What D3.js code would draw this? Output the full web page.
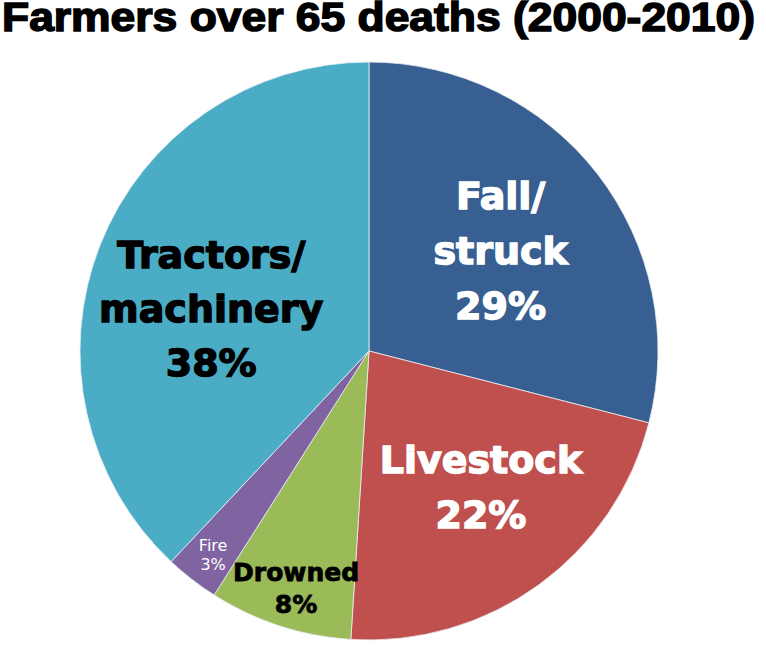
<!DOCTYPE html>
<html>
<head>
<meta charset="utf-8">
<script src="https://cdn.jsdelivr.net/npm/d3@7"></script>
<style>
  html, body { margin: 0; padding: 0; background: #fff; }
  svg { display: block; }
</style>
</head>
<body>
<div id="chart"></div>
<script>
// Causes of death, clockwise from 12 o'clock.
const categories = ["Fall/struck", "Livestock", "Drowned", "Fire", "Tractors/machinery"];
const shares = [29, 22, 8, 3, 38];
const labelLines = [
    ["Fall/", "struck", "29%"],
    ["Livestock", "22%"],
    ["Drowned", "8%"],
    ["Fire", "3%"],
    ["Tractors/", "machinery", "38%"],
];
const colors = ["#385f92", "#c0504d", "#9bbb59", "#8064a2", "#4bacc6"];

const W = 766, H = 648;
const CX = 369, CY = 351, R = 289;

// Label styling per slice: size, weight, colour, radial position, line gap
// and a pixel nudge off the centroid.
const LABEL_STYLE = [
    { size: 38, weight: "bold", fill: "#fff", halo: 1.4, r: 0.55, gap: 55, dx: 6, dy: -3 },
    { size: 38, weight: "bold", fill: "#fff", halo: 1.4, r: 0.6, gap: 55, dx: 10, dy: -4 },
    { size: 25, weight: "bold", fill: "#000", halo: 0.8, r: 0.85, gap: 32, dx: 3, dy: 4 },
    { size: 16, weight: "normal", fill: "#fff", halo: 0, r: 0.88, gap: 19, dx: 0, dy: 3 },
    { size: 38, weight: "bold", fill: "#000", halo: 1.4, r: 0.55, gap: 54, dx: -10, dy: 16 },
];

const svg = d3.select("#chart").append("svg")
    .attr("width", W).attr("height", H);

svg.append("text")
    .attr("x", 2).attr("y", 31)
    .attr("textLength", 753)
    .attr("lengthAdjust", "spacingAndGlyphs")
    .attr("stroke", "#000")
    .attr("stroke-width", 1.5)
    .style("font-family", "'Liberation Sans Narrow', 'Liberation Sans', Arial, sans-serif")
    .style("font-weight", "bold")
    .style("font-size", "40px")
    .text("Farmers over 65 deaths (2000-2010)");

const pie = d3.pie().sort(null).value((d) => d);
const arcs = pie(shares);
const arc = d3.arc().innerRadius(0).outerRadius(R);

const g = svg.append("g").attr("transform", `translate(${CX},${CY})`);

g.selectAll("path.slice")
    .data(arcs)
    .join("path")
    .attr("class", "slice")
    .attr("d", arc)
    .attr("fill", (d, i) => colors[i])
    .attr("stroke", "#e8eef4")
    .attr("stroke-width", 0.8);

const labels = g.selectAll("g.label")
    .data(arcs)
    .join("g")
    .attr("class", "label")
    .attr("transform", (d, i) => {
        const s = LABEL_STYLE[i];
        const [x, y] = d3.arc().innerRadius(0).outerRadius(R * s.r * 2).centroid(d);
        return `translate(${x + s.dx},${y + s.dy})`;
    });

labels.each(function (d, i) {
    const s = LABEL_STYLE[i];
    const lines = labelLines[i];
    const t = d3.select(this).append("text")
        .attr("text-anchor", "middle")
        .style("font-family", "'DejaVu Sans', Arial, sans-serif")
        .style("font-weight", s.weight)
        .style("font-size", s.size + "px")
        .attr("fill", s.fill)
        .attr("stroke", s.halo ? s.fill : "none")
        .attr("stroke-width", s.halo);
    const offset = -((lines.length - 1) * s.gap) / 2;
    lines.forEach((line, k) => {
        t.append("tspan")
            .attr("x", 0)
            .attr("y", offset + k * s.gap)
            .attr("dy", "0.35em")
            .text(line);
    });
});
</script>
</body>
</html>
